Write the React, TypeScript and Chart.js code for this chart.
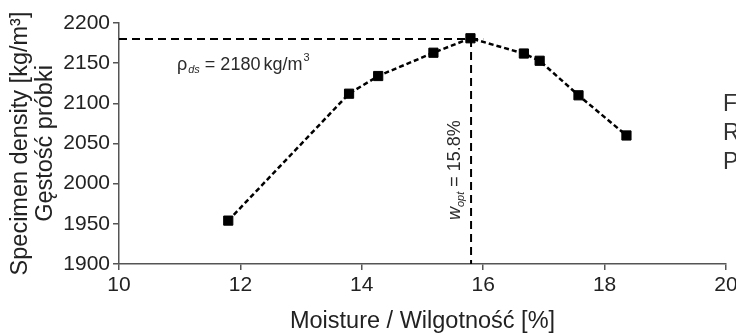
import React, { useEffect, useRef } from 'react';
import { Chart, registerables } from 'chart.js';

Chart.register(...registerables);

// Proctor compaction test: specimen density vs. moisture content
const moisture = [11.8, 13.79, 14.27, 15.18, 15.79, 16.67, 16.93, 17.57, 18.36];
const density = [1954, 2112, 2134, 2163, 2181, 2162, 2153, 2110, 2060];

// Maximum dry density and optimum moisture
const RHO_DS = 2180;
const W_OPT = 15.8;

const xTicks = [10, 12, 14, 16, 18, 20];
const yTicks = [1900, 1950, 2000, 2050, 2100, 2150, 2200];

const xTitle = 'Moisture / Wilgotność [%]';
const yTitle = ['Specimen density [kg/m³]', 'Gęstość próbki'];
const sideNotes = ['F', 'R', 'P'];

const FONT = "'Liberation Sans', Arial, sans-serif";
const INK = '#222';
const AXIS = '#555';

const notesPlugin = {
  id: 'proctorNotes',
  afterDraw(chart: any) {
    const { ctx, scales } = chart;
    const x = scales.x;
    const y = scales.y;
    ctx.save();

    // two-line y-axis title, each line centred on the plot height
    const midY = (y.top + y.bottom) / 2;
    ctx.fillStyle = INK;
    ctx.font = `23.5px ${FONT}`;
    ctx.textAlign = 'center';
    ctx.textBaseline = 'middle';
    yTitle.forEach((line, i) => {
      ctx.save();
      ctx.translate(21 + i * 25, midY);
      ctx.rotate(-Math.PI / 2);
      ctx.fillText(line, 0, 0);
      ctx.restore();
    });

    ctx.fillStyle = '#2a2a2a';
    ctx.textBaseline = 'alphabetic';
    ctx.textAlign = 'left';

    // ρ_ds = 2180 kg/m³ below the horizontal reference line
    let px = x.left + 58;
    const base = y.getPixelForValue(RHO_DS) + 31;
    ctx.font = `18px ${FONT}`;
    ctx.fillText('ρ', px, base);
    px += ctx.measureText('ρ').width + 1;
    ctx.font = `italic 11px ${FONT}`;
    ctx.fillText('ds', px, base + 3);
    px += ctx.measureText('ds').width + 5;
    ctx.font = `18px ${FONT}`;
    ctx.fillText('=', px, base);
    px += ctx.measureText('=').width + 5;
    const val = `${RHO_DS}`;
    ctx.fillText(val, px, base);
    px += ctx.measureText(val).width + 3;
    ctx.fillText('kg/m', px, base);
    px += ctx.measureText('kg/m').width + 1;
    ctx.font = `11px ${FONT}`;
    ctx.fillText('3', px, base - 9);

    // w_opt = 15.8% along the vertical reference line
    ctx.save();
    ctx.translate(x.getPixelForValue(W_OPT) - 11, y.bottom - 44);
    ctx.rotate(-Math.PI / 2);
    let tx = 0;
    ctx.font = `italic 18px ${FONT}`;
    ctx.fillText('w', tx, 0);
    tx += ctx.measureText('w').width;
    ctx.font = `italic 11px ${FONT}`;
    ctx.fillText('opt', tx, 4);
    tx += ctx.measureText('opt').width + 5;
    ctx.font = `18px ${FONT}`;
    ctx.fillText('=', tx, 0);
    tx += ctx.measureText('=').width + 5;
    ctx.fillText(`${W_OPT}%`, tx, 0);
    ctx.restore();

    // text column at the right edge
    ctx.font = `23px ${FONT}`;
    ctx.fillStyle = '#333';
    ctx.textBaseline = 'middle';
    sideNotes.forEach((s, i) => {
      ctx.fillText(s, chart.width - 13, 105 + i * 29);
    });
    ctx.restore();
  },
};

export default function App() {
  const ref = useRef<HTMLCanvasElement | null>(null);

  useEffect(() => {
    if (!ref.current) return;
    const points = moisture.map((m, i) => ({ x: m, y: density[i] }));
    const chart = new Chart(ref.current, {
      type: 'scatter',
      data: {
        datasets: [
          {
            data: points,
            showLine: true,
            borderColor: '#000',
            borderWidth: 2.5,
            borderDash: [5, 3],
            pointStyle: 'rect',
            pointRadius: 6.5,
            pointBackgroundColor: '#000',
            pointBorderColor: '#000',
            pointBorderWidth: 1,
          },
          {
            data: [
              { x: 10, y: RHO_DS },
              { x: 16, y: RHO_DS },
            ],
            showLine: true,
            borderColor: '#000',
            borderWidth: 2,
            borderDash: [8, 5],
            pointRadius: 0,
          },
          {
            data: [
              { x: W_OPT, y: RHO_DS },
              { x: W_OPT, y: 1900 },
            ],
            showLine: true,
            borderColor: '#000',
            borderWidth: 2,
            borderDash: [8, 5],
            pointRadius: 0,
          },
        ],
      },
      options: {
        responsive: false,
        animation: false,
        layout: { padding: { top: 23, right: 10, bottom: 0, left: 0 } },
        plugins: {
          legend: { display: false },
          tooltip: { enabled: false },
        },
        scales: {
          x: {
            type: 'linear',
            min: 10,
            max: 20,
            afterBuildTicks: (s: any) => {
              s.ticks = xTicks.map((v) => ({ value: v }));
            },
            afterFit: (s: any) => {
              s.height = 70;
              s.paddingLeft = 0;
              s.paddingRight = 0;
            },
            ticks: {
              font: { size: 21, family: FONT },
              color: INK,
              padding: 3,
              maxRotation: 0,
              autoSkip: false,
              callback: (v: any) => String(v),
            },
            grid: {
              display: true,
              drawOnChartArea: false,
              drawTicks: true,
              tickLength: 6,
              color: AXIS,
              lineWidth: 1.5,
            },
            border: { display: true, color: AXIS, width: 1.5 },
            title: {
              display: true,
              text: xTitle,
              font: { size: 23.5, family: FONT, lineHeight: 1.06 },
              color: INK,
              padding: { top: 0, bottom: 0 },
            },
          },
          y: {
            type: 'linear',
            min: 1900,
            max: 2200,
            afterBuildTicks: (s: any) => {
              s.ticks = yTicks.map((v) => ({ value: v }));
            },
            afterFit: (s: any) => {
              s.width = 119;
              s.paddingTop = 0;
              s.paddingBottom = 0;
            },
            ticks: {
              font: { size: 21, family: FONT },
              color: INK,
              padding: 3,
              autoSkip: false,
              callback: (v: any) => String(v),
            },
            grid: {
              display: true,
              drawOnChartArea: false,
              drawTicks: true,
              tickLength: 6,
              color: AXIS,
              lineWidth: 1.5,
            },
            border: { display: true, color: AXIS, width: 1.5 },
            title: { display: false },
          },
        },
      },
      plugins: [notesPlugin],
    });
    return () => chart.destroy();
  }, []);

  return (
    <div style={{ position: 'fixed', left: 0, top: 0, width: 736, height: 334, background: '#fff' }}>
      <canvas ref={ref} width={736} height={334} />
    </div>
  );
}
